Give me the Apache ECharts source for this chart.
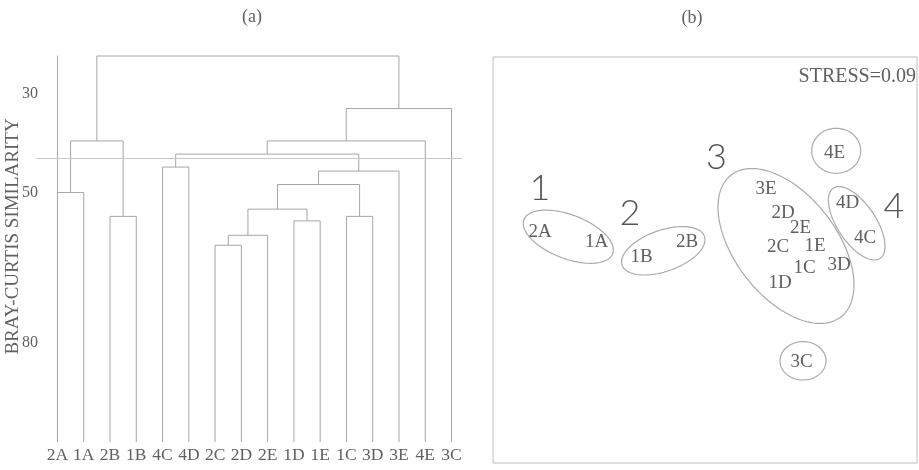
<!DOCTYPE html>
<html><head><meta charset="utf-8">
<script src="https://cdn.jsdelivr.net/npm/echarts@6/dist/echarts.min.js"></script>
<style>html,body{margin:0;padding:0;background:#fff}#c{width:919px;height:470px}</style>
</head><body><div id="c"></div>
<script>
// ---- (a) dendrogram data ----
const leaves = ['2A','1A','2B','1B','4C','4D','2C','2D','2E','1D','1E','1C','3D','3E','4E','3C'];
// node ids: 0..15 = leaves, 16.. = merges in order
const mergeLeft   = [0, 2, 16, 4, 6, 20, 9, 21, 11, 23, 25, 19, 27, 28, 18];
const mergeRight  = [1, 3, 17, 5, 7, 8, 10, 22, 12, 24, 13, 26, 14, 15, 29];
const mergeHeight = [49.9, 54.7, 39.55, 44.8, 60.5, 58.5, 55.6, 53.25, 54.7, 48.3, 45.6, 42.2, 39.55, 33.05, 22.5];
const leafHeight = 100;
const cutLevel = 43.1;
const yTickValues = [30, 50, 80];

// ---- (b) MDS data ----
const sampleNames = ['2A','1A','1B','2B','3E','2D','2E','2C','1E','1C','3D','1D','4D','4C','4E','3C'];
const sampleX = [-1.65, -1.083, -0.633, -0.18, 0.61, 0.78, 0.955, 0.73, 1.10, 0.995, 1.34, 0.75, 1.425, 1.60, 1.295, 0.967];
const sampleY = [0.283, 0.183, 0.025, 0.175, 0.71, 0.47, 0.315, 0.133, 0.14, -0.083, -0.05, -0.233, 0.567, 0.217, 1.067, -1.017];
const groupNames = ['1','2','3','4'];
const groupX = [-1.65, -0.75, 0.115, 1.89];
const groupY = [0.72, 0.467, 1.025, 0.533];
const ellipseCX = [-1.367, -0.417, 0.81, 1.517, 1.312, 0.98];
const ellipseCY = [0.233, 0.092, 0.14, 0.367, 1.092, -1.008];
const ellipseA  = [0.475, 0.436, 0.897, 0.422, 0.245, 0.23];
const ellipseB  = [0.219, 0.206, 0.508, 0.192, 0.225, 0.192];
const ellipseAngle = [-21, 19.3, -52.3, -56.4, 0, 0];
const stressText = 'STRESS=0.09';

// ---- build dendrogram segments ----
const nodeX = leaves.map((_, i) => i);
const nodeH = leaves.map(() => leafHeight);
const segs = [];
for (let k = 0; k < mergeLeft.length; k++) {
  const l = mergeLeft[k], r = mergeRight[k], h = mergeHeight[k];
  segs.push({coords: [[nodeX[l], nodeH[l]], [nodeX[l], h], [nodeX[r], h], [nodeX[r], nodeH[r]]]});
  nodeX.push((nodeX[l] + nodeX[r]) / 2);
  nodeH.push(h);
}

const SERIF = '"Liberation Serif", "Times New Roman", serif';
const TXT = '#606060';
const LINE = '#a6a6a6';

const chart = echarts.init(document.getElementById('c'));
chart.setOption({
  backgroundColor: '#fff',
  animation: false,
  graphic: [
    {type: 'text', x: 252, y: 17, style: {text: '(a)', align: 'center', verticalAlign: 'middle', fontFamily: SERIF, fontSize: 18, fill: TXT}},
    {type: 'text', x: 692, y: 18, style: {text: '(b)', align: 'center', verticalAlign: 'middle', fontFamily: SERIF, fontSize: 18, fill: TXT}},
    {type: 'text', x: 916, y: 77, style: {text: stressText, align: 'right', verticalAlign: 'middle', fontFamily: SERIF, fontSize: 20, fill: TXT}}
  ],
  grid: [
    {left: 48, top: 56, width: 413, height: 386, outerBoundsMode: 'none', containLabel: false},
    {left: 493, top: 57, width: 424, height: 406, outerBoundsMode: 'none', containLabel: false,
     show: true, borderColor: '#bdbdbd', borderWidth: 1, backgroundColor: 'transparent'}
  ],
  xAxis: [
    {type: 'value', gridIndex: 0, min: -0.36, max: 15.36,
     axisLine: {show: false}, axisTick: {show: false}, splitLine: {show: false},
     axisLabel: {customValues: leaves.map((_, i) => i), formatter: v => leaves[Math.round(v)],
                 margin: 4, fontFamily: SERIF, fontSize: 17.5, color: TXT}},
    {type: 'value', gridIndex: 1, min: -2.12, max: 2.12, show: false}
  ],
  yAxis: [
    {type: 'value', gridIndex: 0, inverse: true, min: 22.5, max: 100,
     axisLine: {show: true, lineStyle: {color: '#aaa', width: 1}}, axisTick: {show: false}, splitLine: {show: false},
     axisLabel: {customValues: yTickValues, margin: 10, fontFamily: SERIF, fontSize: 16, color: TXT},
     name: 'BRAY-CURTIS SIMILARITY', nameLocation: 'middle', nameGap: 25, nameMoveOverlap: false,
     nameTextStyle: {fontFamily: SERIF, fontSize: 19, color: TXT, padding: [0, 0, 0, 25]}},
    {type: 'value', gridIndex: 1, min: -2.03, max: 2.03, show: false}
  ],
  series: [
    {type: 'lines', coordinateSystem: 'cartesian2d', xAxisIndex: 0, yAxisIndex: 0, polyline: true, silent: true, clip: false,
     data: segs, lineStyle: {color: LINE, width: 1, opacity: 1}},
    {type: 'lines', coordinateSystem: 'cartesian2d', xAxisIndex: 0, yAxisIndex: 0, polyline: false, silent: true, clip: false,
     data: [{coords: [[-0.8, cutLevel], [15.4, cutLevel]]}], lineStyle: {color: '#c8c8c8', width: 1, opacity: 1}},
    {type: 'custom', coordinateSystem: 'cartesian2d', xAxisIndex: 1, yAxisIndex: 1, silent: true,
     data: ellipseCX.map((cx, i) => [cx, ellipseCY[i], ellipseA[i], ellipseB[i], ellipseAngle[i]]),
     encode: {x: 0, y: 1},
     renderItem: function (params, api) {
       const cx = api.value(0), cy = api.value(1), a = api.value(2), b = api.value(3), ang = api.value(4) * Math.PI / 180;
       const pts = [];
       for (let j = 0; j < 120; j++) {
         const t = j / 120 * Math.PI * 2;
         const x = cx + a * Math.cos(t) * Math.cos(ang) - b * Math.sin(t) * Math.sin(ang);
         const y = cy + a * Math.cos(t) * Math.sin(ang) + b * Math.sin(t) * Math.cos(ang);
         pts.push(api.coord([x, y]));
       }
       return {type: 'polygon', shape: {points: pts}, style: {fill: 'none', stroke: '#aaa', lineWidth: 1.2}};
     }},
    {type: 'custom', coordinateSystem: 'cartesian2d', xAxisIndex: 1, yAxisIndex: 1, silent: true,
     data: sampleX.map((x, i) => [x, sampleY[i]]),
     renderItem: function (params, api) {
       const p = api.coord([api.value(0), api.value(1)]);
       return {type: 'text', x: p[0], y: p[1], style: {text: sampleNames[params.dataIndex], align: 'center', verticalAlign: 'middle',
               fontFamily: SERIF, fontSize: 19, fill: TXT}};
     }},
    {type: 'custom', coordinateSystem: 'cartesian2d', xAxisIndex: 1, yAxisIndex: 1, silent: true,
     data: groupX.map((x, i) => [x, groupY[i]]),
     renderItem: function (params, api) {
       const p = api.coord([api.value(0), api.value(1)]);
       return {type: 'text', x: p[0], y: p[1], style: {text: groupNames[params.dataIndex], align: 'center', verticalAlign: 'middle',
               fontFamily: 'Lato, "DejaVu Sans", sans-serif', fontWeight: 300, fontSize: 36, fill: '#555'}};
     }}
  ]
});
</script></body></html>
